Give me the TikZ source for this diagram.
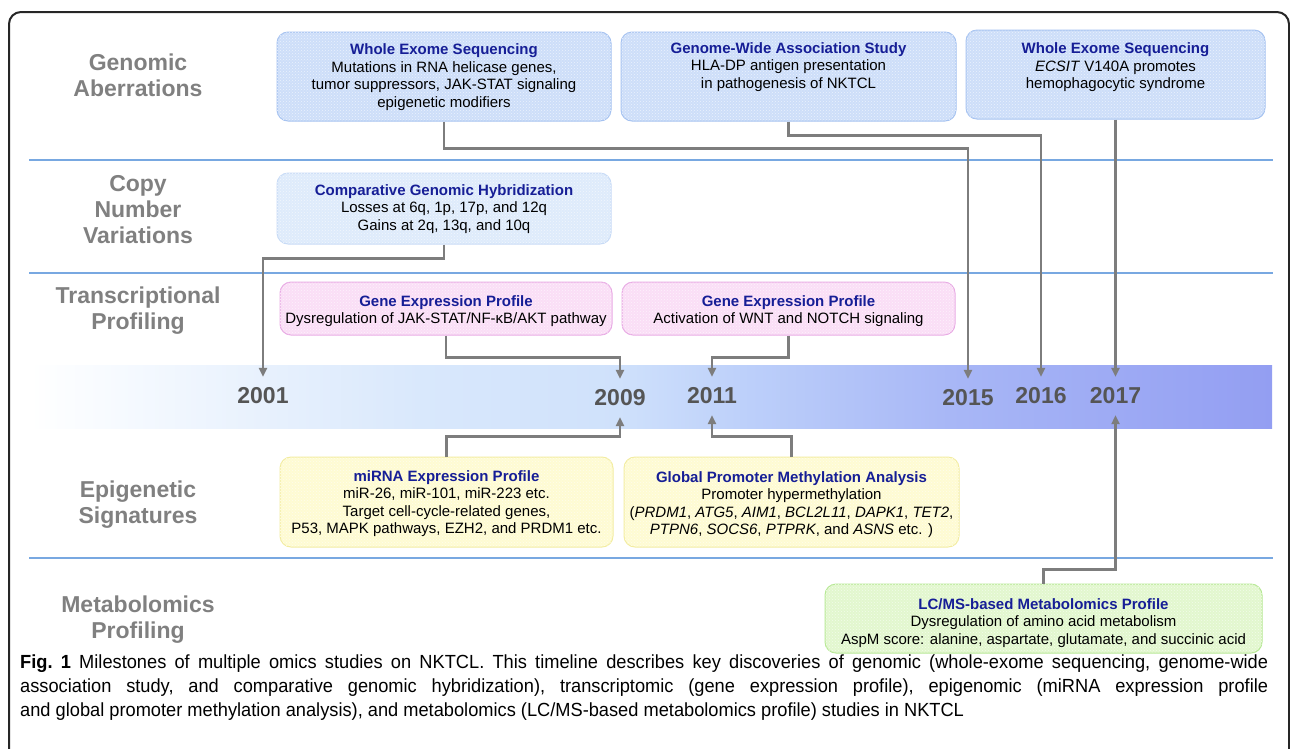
\documentclass[tikz,border=0pt]{standalone}
\usepackage{fontspec}
\setmainfont{Liberation Sans}
\newfontfamily\capfont[FakeStretch=0.96]{Liberation Sans}
\usetikzlibrary{arrows.meta,patterns}
\definecolor{navy}{RGB}{22,30,150}
\definecolor{rowgray}{RGB}{128,128,128}
\definecolor{yeargray}{RGB}{85,85,85}
\definecolor{arrowgray}{RGB}{125,125,125}
\definecolor{sepblue}{RGB}{120,168,225}
\definecolor{bluefill}{RGB}{205,222,249}
\definecolor{blueline}{RGB}{165,194,240}
\definecolor{lbluefill}{RGB}{222,235,251}
\definecolor{lblueline}{RGB}{200,219,246}
\definecolor{pinkfill}{RGB}{250,222,246}
\definecolor{pinkline}{RGB}{232,170,228}
\definecolor{yelfill}{RGB}{254,251,210}
\definecolor{yelline}{RGB}{242,236,160}
\definecolor{grnfill}{RGB}{226,247,206}
\definecolor{grnline}{RGB}{182,232,148}
\definecolor{tlZ}{RGB}{246,250,255}
\definecolor{tlA}{RGB}{232,241,253}
\definecolor{tlAA}{RGB}{217,232,252}
\definecolor{tlB}{RGB}{207,225,251}
\definecolor{tlC}{RGB}{188,207,250}
\definecolor{tlD}{RGB}{168,183,246}
\definecolor{tlE}{RGB}{147,158,242}
\pgfdeclarehorizontalshading{tlbar}{100bp}{color(0bp)=(white); color(25bp)=(white); color(28.6bp)=(tlZ); color(34.3bp)=(tlA); color(40.7bp)=(tlAA); color(48.7bp)=(tlB); color(54bp)=(tlC); color(62bp)=(tlD); color(75bp)=(tlE); color(100bp)=(tlE)}
\newcommand\boxtitle[1]{\textcolor{navy}{\bfseries #1}}
\begin{document}
\begin{tikzpicture}[x=1pt,y=-1pt,
  boxbase/.style={rounded corners=11pt, line width=1pt, inner sep=0pt},
  bluebox/.style={boxbase, draw=blueline, fill=bluefill, postaction={pattern=crosshatch dots, pattern color=white!60!bluefill}},
  lbluebox/.style={boxbase, draw=lblueline, fill=lbluefill, postaction={pattern=crosshatch dots, pattern color=white!60!lbluefill}},
  pinkbox/.style={boxbase, draw=pinkline, fill=pinkfill, postaction={pattern=crosshatch dots, pattern color=white!60!pinkfill}},
  yelbox/.style={boxbase, draw=yelline, fill=yelfill, postaction={pattern=crosshatch dots, pattern color=white!60!yelfill}},
  grnbox/.style={boxbase, draw=grnline, fill=grnfill, postaction={pattern=crosshatch dots, pattern color=white!60!grnfill}},
  boxtext/.style={align=center, inner sep=0pt, font=\fontsize{15}{17.5}\selectfont},
  rowlabel/.style={align=center, inner sep=0pt, text=rowgray, font=\bfseries\fontsize{23}{26}\selectfont},
  year/.style={inner sep=0pt, minimum height=38pt, text=yeargray, font=\bfseries\fontsize{23}{26}\selectfont},
  sepline/.style={draw=sepblue, line width=1.3pt},
  conn/.style={draw=arrowgray, line width=2.5pt, -{Triangle[length=9pt,width=8pt]}},
  captext/.style={inner sep=0pt, text width=1248pt, align=justify, font=\capfont\fontsize{19}{24}\selectfont}
]
\useasboundingbox (0,0) rectangle (1290,748);
% frame
\draw[line width=2pt, draw=black!85, rounded corners=12pt] (9,780) -- (9,12) -- (1289,12) -- (1289,780);
% separators
\draw[sepline] (29,160) -- (1273,160);
\draw[sepline] (29,273) -- (1273,273);
\draw[sepline] (29,558) -- (1273,558);
% row labels
\node[rowlabel] (rGA) at (138,75) {Genomic\\Aberrations};
\node[rowlabel] (rCN) at (138,210) {Copy\\Number\\Variations};
\node[rowlabel] (rTP) at (138,311) {Transcriptional\\Profiling};
\node[rowlabel] (rES) at (138,505) {Epigenetic\\Signatures};
\node[rowlabel] (rMP) at (138,620) {Metabolomics\\Profiling};
% timeline bar
\shade[shading=tlbar] (30,365) rectangle (1272,428);
% years
\node[year] (y2001) at (263,396) {2001};
\node[year] (y2009) at (620,398) {2009};
\node[year] (y2011) at (712,396) {2011};
\node[year] (y2015) at (968,398) {2015};
\node[year] (y2016) at (1041,396) {2016};
\node[year] (y2017) at (1115.5,396) {2017};
% boxes
\node[bluebox, minimum width=334pt, minimum height=89pt] (wes1) at (444,76.5) {};
\node[boxtext] (wes1t) at (444,77) {\boxtitle{Whole Exome Sequencing}\\Mutations in RNA helicase genes,\\tumor suppressors, JAK-STAT signaling\\epigenetic modifiers};
\node[bluebox, minimum width=335pt, minimum height=89pt] (gwas) at (788.5,76.5) {};
\node[boxtext] (gwast) at (788.5,67) {\boxtitle{Genome-Wide Association Study}\\HLA-DP antigen presentation\\in pathogenesis of NKTCL};
\node[bluebox, minimum width=299pt, minimum height=89pt] (wes2) at (1115.5,74.5) {};
\node[boxtext] (wes2t) at (1115.5,67.5) {\boxtitle{Whole Exome Sequencing}\\\textit{ECSIT} V140A promotes\\hemophagocytic syndrome};
\node[lbluebox, minimum width=334pt, minimum height=71pt] (cgh) at (444,208.5) {};
\node[boxtext] (cght) at (444,209) {\boxtitle{Comparative Genomic Hybridization}\\Losses at 6q, 1p, 17p, and 12q\\Gains at 2q, 13q, and 10q};
\node[pinkbox, minimum width=332pt, minimum height=53pt] (gep1) at (446,308.5) {};
\node[boxtext] (gep1t) at (446,311) {\boxtitle{Gene Expression Profile}\\Dysregulation of JAK-STAT/NF-κB/AKT pathway};
\node[pinkbox, minimum width=333pt, minimum height=53pt] (gep2) at (788.5,308.5) {};
\node[boxtext] (gep2t) at (788.5,311) {\boxtitle{Gene Expression Profile}\\Activation of WNT and NOTCH signaling};
\node[yelbox, minimum width=333pt, minimum height=90pt] (mirna) at (446.5,502) {};
\node[boxtext] (mirnat) at (446.5,503.5) {\boxtitle{miRNA Expression Profile}\\miR-26, miR-101, miR-223 etc.\\Target cell-cycle-related genes,\\P53, MAPK pathways, EZH2, and PRDM1 etc.};
\node[yelbox, minimum width=335pt, minimum height=90pt] (prom) at (791.5,502) {};
\node[boxtext] (promt) at (791.5,504.5) {\boxtitle{Global Promoter Methylation Analysis}\\Promoter hypermethylation\\(\textit{PRDM1}, \textit{ATG5}, \textit{AIM1}, \textit{BCL2L11}, \textit{DAPK1}, \textit{TET2},\\\textit{PTPN6}, \textit{SOCS6}, \textit{PTPRK}, and \textit{ASNS} etc. )};
\node[grnbox, minimum width=437pt, minimum height=69pt] (lcms) at (1043.5,618.5) {};
\node[boxtext] (lcmst) at (1043.5,623) {\boxtitle{LC/MS-based Metabolomics Profile}\\Dysregulation of amino acid metabolism\\AspM score: alanine, aspartate, glutamate, and succinic acid};
% connectors
\draw[conn] (cgh.south) -- ++(0,14) -| (y2001.north);
\draw[conn] (wes1.south) -- ++(0,27) -| (y2015.north);
\draw[conn] (gwas.south) -- ++(0,14) -| (y2016.north);
\draw[conn] (wes2.south) -- (y2017.north);
\draw[conn] (gep1.south) -- ++(0,22) -| (y2009.north);
\draw[conn] (gep2.south) -- ++(0,22) -| (y2011.north);
\draw[conn] (mirna.north) -- ++(0,-20) -| (y2009.south);
\draw[conn] (prom.north) -- ++(0,-20) -| (y2011.south);
\draw[conn] (lcms.north) -- ++(0,-14) -| (y2017.south);
% caption
\node[captext, anchor=north west] (caption) at (20,655) {\frenchspacing\hyphenpenalty=10000 \textbf{Fig. 1} Milestones of multiple omics studies on NKTCL. This timeline describes key discoveries of genomic (whole-exome sequencing, genome-wide\linebreak association study, and comparative genomic hybridization), transcriptomic (gene expression profile), epigenomic (miRNA expression profile\linebreak and global promoter methylation analysis), and metabolomics (LC/MS-based metabolomics profile) studies in NKTCL};
\end{tikzpicture}
\end{document}
